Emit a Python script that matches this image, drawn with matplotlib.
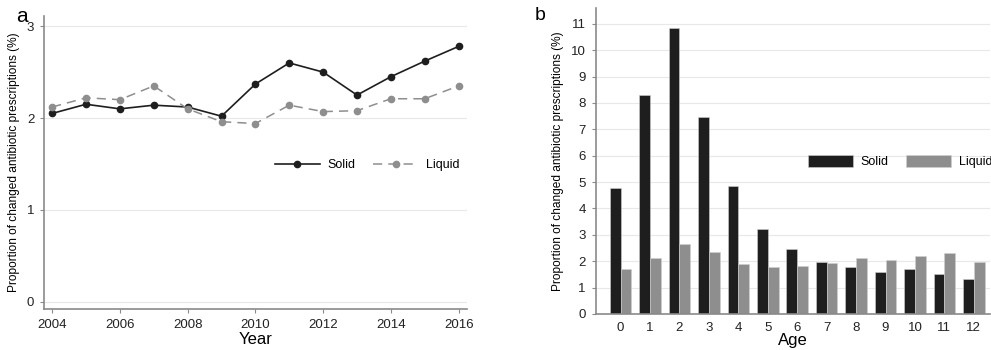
import numpy as np
import matplotlib.pyplot as plt

plt.rcParams['font.family'] = ['Liberation Sans', 'DejaVu Sans']

years = [2004, 2005, 2006, 2007, 2008, 2009, 2010, 2011, 2012, 2013, 2014, 2015, 2016]
solidYear = [2.05, 2.15, 2.10, 2.14, 2.12, 2.02, 2.37, 2.60, 2.50, 2.25, 2.45, 2.62, 2.78]
liquidYear = [2.12, 2.22, 2.20, 2.35, 2.10, 1.96, 1.94, 2.14, 2.07, 2.08, 2.21, 2.21, 2.35]

ages = [0, 1, 2, 3, 4, 5, 6, 7, 8, 9, 10, 11, 12]
solidAge = [4.76, 8.32, 10.86, 7.47, 4.85, 3.21, 2.45, 1.97, 1.79, 1.60, 1.70, 1.52, 1.34]
liquidAge = [1.70, 2.11, 2.65, 2.35, 1.90, 1.77, 1.82, 1.93, 2.13, 2.05, 2.21, 2.31, 1.98]

dark = '#1e1e1e'
grey = '#8e8e8e'
axcol = '#8a8a8a'
ylab = 'Proportion of changed antibiotic prescriptions (%)'

fig = plt.figure(figsize=(9.91, 3.5), dpi=100)

def style(ax):
	for s in ['top', 'right']:
		ax.spines[s].set_visible(False)
	ax.spines['left'].set_color(axcol)
	ax.spines['bottom'].set_color(axcol)
	ax.spines['left'].set_linewidth(1.2)
	ax.spines['bottom'].set_linewidth(1.2)
	ax.tick_params(colors=axcol, labelcolor='#222222', labelsize=9.5, length=3, pad=4)
	ax.yaxis.grid(True, color='#e8e8e8', linewidth=0.8)
	ax.set_axisbelow(True)

# panel a
ax1 = fig.add_axes([0.0444, 0.117, 0.4266, 0.837])
ax1.plot(years, solidYear, color=dark, marker='o', markersize=4.5, linewidth=1.2, label='Solid')
ax1.plot(years, liquidYear, color=grey, marker='o', markersize=4.5, linewidth=1.1,
	dashes=[6, 4], label='Liquid')
style(ax1)
ax1.set_xlim(2003.76, 2016.24)
ax1.set_ylim(-0.08, 3.11)
ax1.set_xticks(range(2004, 2017, 2))
ax1.set_yticks([0, 1, 2, 3])
ax1.set_xlabel('Year', fontsize=12, labelpad=1)
ax1.set_ylabel(ylab, fontsize=8.6, labelpad=5)
ax1.legend(loc='center left', bbox_to_anchor=(0.546, 0.491), ncol=2, frameon=False,
	fontsize=9, handlelength=3.6, columnspacing=1.4, handletextpad=0.64,
	borderpad=0, borderaxespad=0)
fig.text(0.016, 0.952, 'a', fontsize=15, va='center')

# panel b
ax2 = fig.add_axes([0.601, 0.103, 0.398, 0.874])
w = 0.365
x = np.array(ages)
ax2.bar(x - w / 2, solidAge, width=w, color=dark, edgecolor='#d0d0d0', linewidth=0.4, label='Solid')
ax2.bar(x + w / 2, liquidAge, width=w, color=grey, edgecolor='#d0d0d0', linewidth=0.4, label='Liquid')
style(ax2)
ax2.set_xlim(-0.85, 12.55)
ax2.set_ylim(0, 11.6)
ax2.set_xticks(ages)
ax2.set_yticks(range(0, 12))
ax2.tick_params(axis='x', length=0, pad=6)
ax2.set_xlabel('Age', fontsize=12, labelpad=-1)
ax2.set_ylabel(ylab, fontsize=8.6, labelpad=5)
ax2.legend(loc='center left', bbox_to_anchor=(0.538, 0.497), ncol=2, frameon=False,
	fontsize=9, handlelength=3.6, handleheight=1.0, columnspacing=1.4, handletextpad=0.64,
	borderpad=0, borderaxespad=0)
fig.text(0.54, 0.955, 'b', fontsize=14, va='center')

plt.savefig('out.png', dpi=100)
